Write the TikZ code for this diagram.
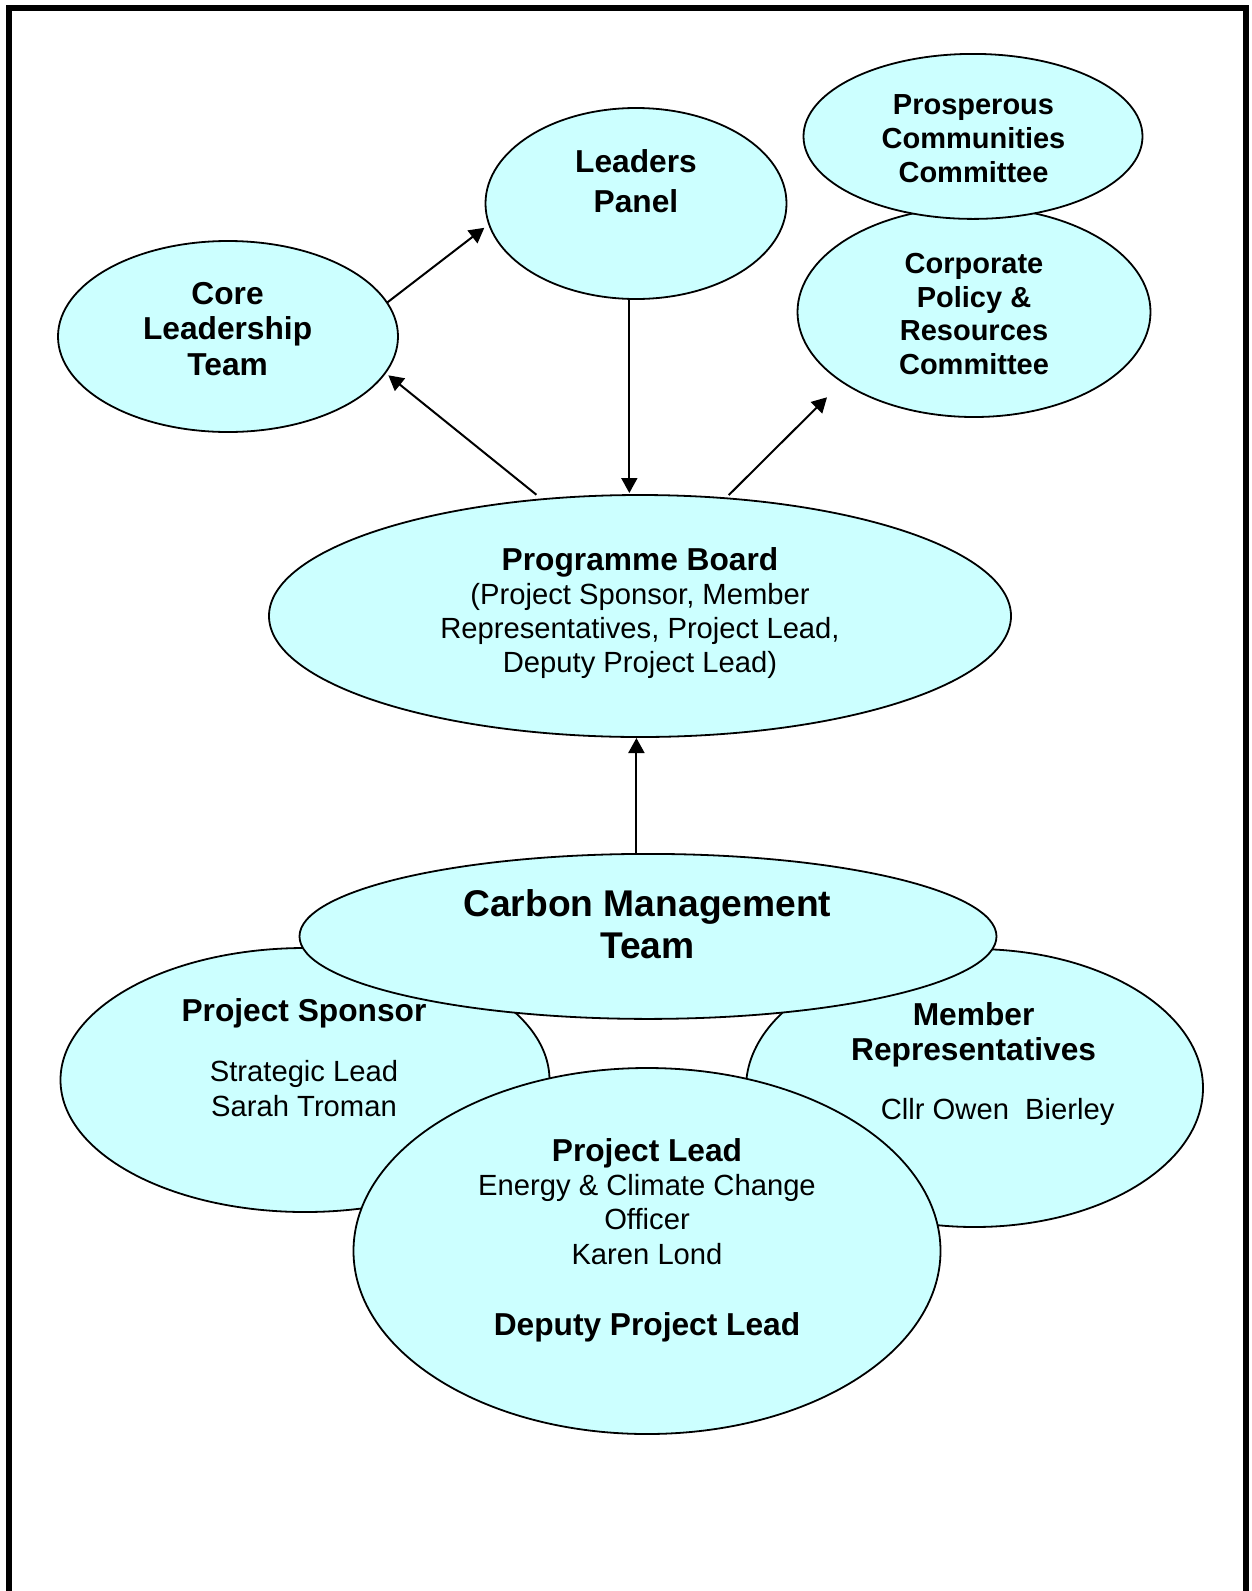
\documentclass[tikz,border=0pt]{standalone}
\usepackage{fontspec}
\setmainfont{Liberation Sans}
\usetikzlibrary{shapes.geometric,arrows.meta}
\definecolor{cyanfill}{RGB}{204,255,255}
\newcommand\Zs{\rule[\dimexpr0.35em-0.5\baselineskip\relax]{0pt}{\baselineskip}}
\newcommand\fb[2]{\fontsize{#1}{#2}\selectfont\bfseries}
\newcommand\fr[2]{\fontsize{#1}{#2}\selectfont}
\begin{document}
\begin{tikzpicture}[x=1pt,y=-1pt,
  bub/.style={ellipse, draw, line width=1.8pt, fill=cyanfill, inner sep=0pt, outer sep=0pt},
  txt/.style={align=center, inner sep=0pt, outer sep=0pt},
  arr/.style={line width=2pt, -{Triangle[length=15pt,width=16pt]}}]
\useasboundingbox (0,0) rectangle (1251,1591);
% frame
\draw[line width=6pt, line join=miter] (9,1591) -- (9,8) -- (1246,8) -- (1246,1591);
% upper bubbles
\node[bub, minimum width=340pt, minimum height=191pt] (core) at (228,336.5) {};
\node[bub, minimum width=301pt, minimum height=191pt] (leaders) at (636,203.5) {};
\node[bub, minimum width=353pt, minimum height=210pt] (corp) at (974,312) {};
\node[bub, minimum width=339pt, minimum height=165pt] (prosp) at (973,136.4) {};
\node[bub, minimum width=742pt, minimum height=242pt] (prog) at (640,616) {};
% lower bubbles
\node[bub, minimum width=489pt, minimum height=264pt] (sponsor) at (305,1080) {};
\node[bub, minimum width=457pt, minimum height=278pt] (member) at (974.5,1088) {};
\node[bub, minimum width=697pt, minimum height=165pt] (carbon) at (648,936.4) {};
\node[bub, minimum width=587pt, minimum height=366pt] (lead) at (647,1251) {};
% connectors
\draw[arr, shorten >=6pt] (core.12.3) -- (leaders.188.4);
\draw[arr, shorten <=7.3pt, shorten >=4pt] (prog.130.96) -- (core.347.45);
\draw[arr, shorten >=2pt] (leaders.266.4) -- (leaders.266.4 |- prog.north);
\draw[arr, shorten <=4.5pt, shorten >=21.7pt] (prog.54.97) -- (corp.208.3);
\draw[arr, shorten >=1pt] (carbon.98.5) -- (carbon.98.5 |- prog.south);
% texts
\node[txt, font=\fb{31.7}{34.75}] (coret) at (227.6,328.6) {\Zs Core\\\Zs Leadership\\\Zs Team};
\node[txt, font=\fb{31.7}{40}] (leaderst) at (636,181.7) {\Zs Leaders\\\Zs Panel};
\node[txt, font=\fb{29}{34}] (prospt) at (973.5,138.5) {\Zs Prosperous\\\Zs Communities\\\Zs Committee};
\node[txt, font=\fb{29}{33.5}] (corpt) at (974,313.6) {\Zs Corporate\\\Zs Policy \&\\\Zs Resources\\\Zs Committee};
\node[txt, font=\fr{29.2}{33.8}] (progt) at (640,610.7) {\fb{31.7}{33.8}\Zs Programme Board\\\Zs(Project Sponsor, Member\\\Zs Representatives, Project Lead,\\\Zs Deputy Project Lead)};
\node[txt, font=\fb{37.2}{40}] (carbont) at (647.4,924.7) {\Zs Carbon Management\\\Zs Team};
\node[txt, font=\fr{29.2}{34.3}] (sponsort) at (304,1058.4) {\fb{31.7}{34.3}\Zs Project Sponsor\\[25.7pt]\Zs Strategic Lead\\\Zs Sarah Troman};
\node[txt, font=\fb{31.7}{34.5}] (membert) at (973.6,1032.2) {\Zs Member\\\Zs Representatives};
\node[txt, font=\fr{29.2}{34}] (membern) at (997.7,1109.2) {\Zs Cllr Owen\ \ Bierley};
\node[txt, font=\fr{29.2}{34.3}] (leadt) at (647,1237.5) {\fb{31.7}{34.3}\Zs Project Lead\\\Zs Energy \& Climate Change\\\Zs Officer\\\Zs Karen Lond\\[34.9pt]\fb{31.7}{34.3}\Zs Deputy Project Lead};
\end{tikzpicture}
\end{document}
